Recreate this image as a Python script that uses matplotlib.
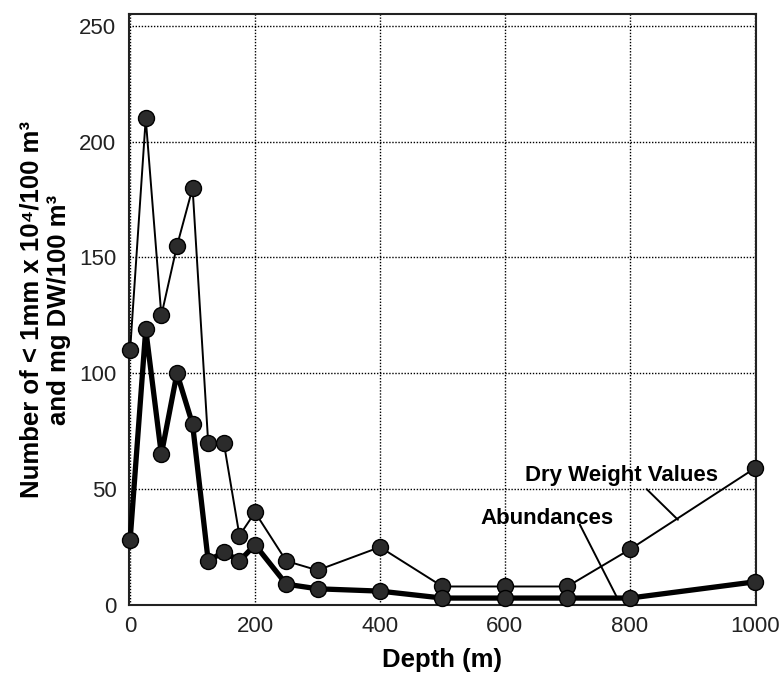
import matplotlib
matplotlib.use("Agg")
import matplotlib.pyplot as plt

depth = [0, 25, 50, 75, 100, 125, 150, 175, 200, 250, 300, 400, 500, 600, 700, 800, 1000]
dry_weight = [110, 210, 125, 155, 180, 70, 70, 30, 40, 19, 15, 25, 8, 8, 8, 24, 59]
abundances = [28, 119, 65, 100, 78, 19, 23, 19, 26, 9, 7, 6, 3, 3, 3, 3, 10]
x_ticks = [0, 200, 400, 600, 800, 1000]
y_ticks = [0, 50, 100, 150, 200, 250]

plt.rcParams['font.family'] = ['Liberation Sans', 'DejaVu Sans']

fig = plt.figure(figsize=(7.81, 6.76), dpi=100)
ax = fig.add_axes([0.165, 0.105, 0.803, 0.874])

ax.plot(depth, dry_weight, color='black', lw=1.4, marker='o', ms=11.5,
        mfc='#2b2b2b', mec='black', mew=1.0, clip_on=False, zorder=3)
ax.plot(depth, abundances, color='black', lw=3.8, marker='o', ms=11.5,
        mfc='#2b2b2b', mec='black', mew=1.0, clip_on=False, zorder=4)

ax.set_xlim(-2, 1002)
ax.set_ylim(0, 255)
ax.set_xticks(x_ticks)
ax.set_yticks(y_ticks)
ax.tick_params(length=0, labelsize=16, colors='#222222')
ax.tick_params(axis='y', pad=9)
ax.tick_params(axis='x', pad=8)
ax.grid(True, color='black', linestyle=(0, (1, 1.2)), linewidth=1.0)
for s in ax.spines.values():
    s.set_linewidth(1.5)
    s.set_color('#222222')

ax.set_xlabel('Depth (m)', fontsize=18.5, fontweight='bold', labelpad=8)
ax.set_ylabel('Number of < 1mm x 10\u2074/100 m\u00b3\nand mg DW/100 m\u00b3',
              fontsize=18.5, fontweight='bold', linespacing=1.15, labelpad=6)

ax.text(787, 56, 'Dry Weight Values', fontsize=16, fontweight='bold',
        ha='center', va='center')
ax.annotate('', xy=(877, 36.8), xytext=(827, 50),
            arrowprops=dict(arrowstyle='-', color='black', lw=1.4,
                            shrinkA=0, shrinkB=0))
ax.text(667, 37.5, 'Abundances', fontsize=16, fontweight='bold',
        ha='center', va='center')
ax.annotate('', xy=(779, 3.5), xytext=(720, 34.7),
            arrowprops=dict(arrowstyle='-', color='black', lw=1.4,
                            shrinkA=0, shrinkB=0))

fig.savefig('out.png', dpi=100)
